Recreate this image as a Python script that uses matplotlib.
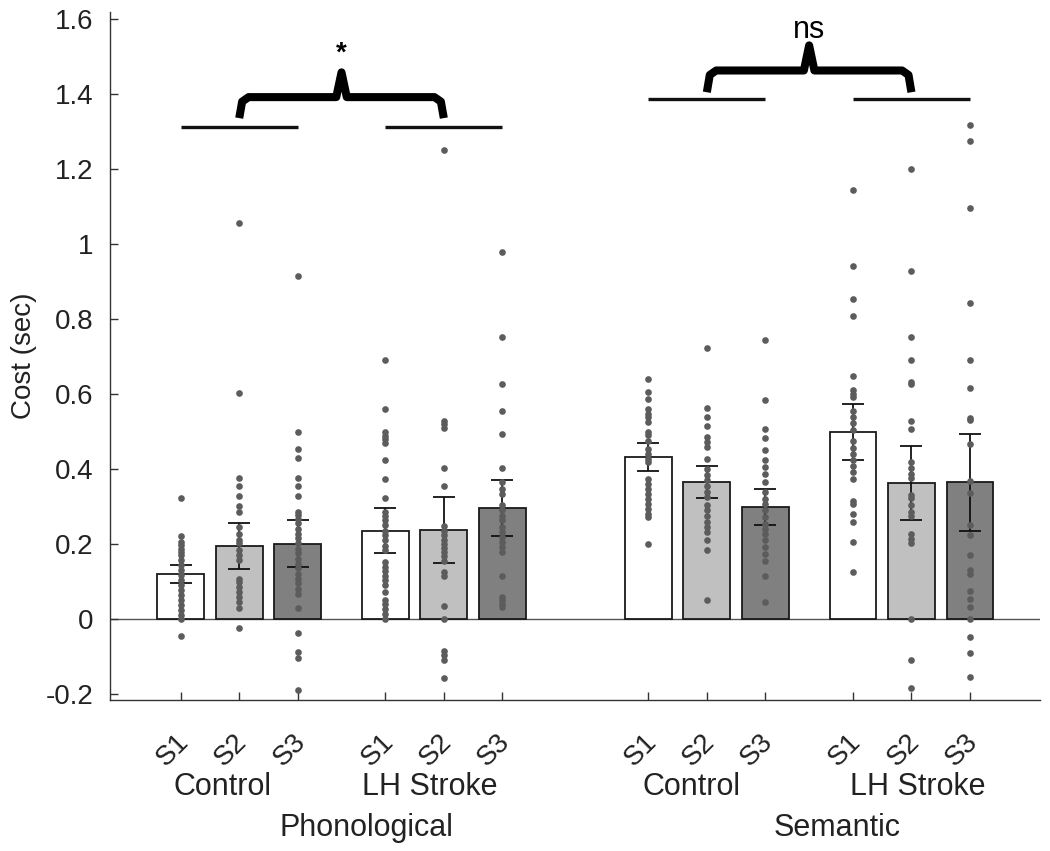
import matplotlib
matplotlib.use("Agg")
import matplotlib.pyplot as plt
import matplotlib.transforms as mtransforms
import numpy as np

plt.rcParams['font.family'] = ['Liberation Sans', 'DejaVu Sans']

# ---------------- data ----------------
tasks = ["Phonological", "Semantic"]
groups = ["Control", "LH Stroke"]
sessions = ["S1", "S2", "S3"]

means = [0.121, 0.195, 0.202, 0.236, 0.238, 0.297,
         0.433, 0.367, 0.300, 0.499, 0.363, 0.366]
errors = [0.024, 0.061, 0.062, 0.060, 0.088, 0.074,
          0.037, 0.043, 0.047, 0.075, 0.099, 0.129]

pc_s1 = [0.325, 0.222, 0.207, 0.198, 0.189, 0.180, 0.171, 0.158, 0.145, 0.131, 0.118,
         0.105, 0.091, 0.078, 0.065, 0.051, 0.038, 0.025, 0.011, 0.0, -0.044]
pc_s2 = [1.056, 0.605, 0.378, 0.356, 0.330, 0.303, 0.287, 0.247, 0.229, 0.211, 0.203,
         0.185, 0.171, 0.158, 0.109, 0.100, 0.087, 0.074, 0.060, 0.047, 0.031, -0.024]
pc_s3 = [0.915, 0.501, 0.455, 0.431, 0.378, 0.356, 0.330, 0.287, 0.278, 0.269, 0.256,
         0.242, 0.229, 0.216, 0.203, 0.189, 0.176, 0.162, 0.149, 0.136, 0.122, 0.109,
         0.096, 0.082, 0.069, 0.031, -0.035, -0.087, -0.103, -0.187]
pl_s1 = [0.691, 0.562, 0.500, 0.490, 0.480, 0.470, 0.426, 0.375, 0.324, 0.286, 0.275,
         0.264, 0.251, 0.237, 0.224, 0.211, 0.197, 0.186, 0.153, 0.141, 0.129, 0.117,
         0.104, 0.093, 0.073, 0.051, 0.040, 0.028, 0.015, 0.0]
pl_s2 = [1.251, 0.529, 0.520, 0.510, 0.405, 0.355, 0.248, 0.237, 0.224, 0.212, 0.202,
         0.191, 0.180, 0.168, 0.157, 0.126, 0.115, 0.037, 0.0, -0.083, -0.096, -0.109, -0.155]
pl_s3 = [0.979, 0.752, 0.627, 0.557, 0.495, 0.405, 0.366, 0.349, 0.335, 0.304, 0.291,
         0.277, 0.264, 0.246, 0.233, 0.220, 0.206, 0.193, 0.180, 0.117, 0.060, 0.051,
         0.042, 0.033]
sc_s1 = [0.642, 0.606, 0.588, 0.562, 0.548, 0.540, 0.526, 0.499, 0.491, 0.477, 0.455,
         0.442, 0.428, 0.420, 0.375, 0.362, 0.348, 0.335, 0.322, 0.308, 0.295, 0.282,
         0.273, 0.200]
sc_s2 = [0.725, 0.564, 0.540, 0.517, 0.486, 0.473, 0.460, 0.428, 0.402, 0.384, 0.371,
         0.357, 0.340, 0.326, 0.304, 0.291, 0.277, 0.259, 0.246, 0.233, 0.211, 0.186, 0.051]
sc_s3 = [0.745, 0.586, 0.508, 0.484, 0.451, 0.426, 0.406, 0.388, 0.366, 0.340, 0.322,
         0.308, 0.291, 0.273, 0.255, 0.242, 0.228, 0.211, 0.193, 0.175, 0.157, 0.117, 0.046]
sl_s1 = [1.146, 0.942, 0.855, 0.808, 0.648, 0.611, 0.602, 0.593, 0.557, 0.540, 0.524,
         0.504, 0.477, 0.458, 0.440, 0.424, 0.408, 0.393, 0.375, 0.317, 0.307, 0.280,
         0.259, 0.206, 0.126]
sl_s2 = [1.201, 0.930, 0.752, 0.691, 0.633, 0.627, 0.529, 0.508, 0.420, 0.405, 0.389,
         0.378, 0.333, 0.324, 0.304, 0.286, 0.275, 0.228, 0.215, 0.203, 0.0, -0.109, -0.182]
sl_s3 = [1.319, 1.277, 1.096, 0.845, 0.691, 0.618, 0.538, 0.531, 0.468, 0.370, 0.337,
         0.253, 0.224, 0.173, 0.132, 0.122, 0.077, 0.055, 0.033, 0.0, -0.047, -0.089, -0.154]

dots = [pc_s1, pc_s2, pc_s3, pl_s1, pl_s2, pl_s3,
        sc_s1, sc_s2, sc_s3, sl_s1, sl_s2, sl_s3]

ytick_vals = [-0.2, 0, 0.2, 0.4, 0.6, 0.8, 1.0, 1.2, 1.4, 1.6]
ytick_labels = ["-0.2", "0", "0.2", "0.4", "0.6", "0.8", "1", "1.2", "1.4", "1.6"]
sig_labels = ["*", "ns"]

# ---------------- layout ----------------
group_starts = [1, 4.5, 9, 12.5]
positions = [s + k for s in group_starts for k in range(3)]
bar_colors = ["#ffffff", "#c0c0c0", "#808080"] * 4

fig = plt.figure(figsize=(10.5, 8.51), dpi=100)
ax = fig.add_axes([0.1048, 0.1774, 0.8857, 0.8085])
ax.set_xlim(-0.21, 15.7)
ax.set_ylim(-0.215, 1.62)

ax.axhline(0, color="#555555", lw=1.0, zorder=1)
ax.bar(positions, means, width=0.8, color=bar_colors, edgecolor="#1a1a1a",
       linewidth=1.3, zorder=2)
ax.errorbar(positions, means, yerr=errors, fmt="none", ecolor="#111111",
            elinewidth=1.3, capsize=8, capthick=1.3, zorder=3)
for x, d in zip(positions, dots):
    ax.plot([x] * len(d), d, "o", ms=4.8, color="#5c5c5c", mec="none", zorder=4)

# brackets
line_y = [1.313, 1.387]
brace_foot = [1.337, 1.406]
brace_mid = [1.393, 1.464]
brace_tip = [1.459, 1.531]
for t in range(2):
    g0, g1 = group_starts[2 * t], group_starts[2 * t + 1]
    for g in (g0, g1):
        ax.plot([g, g + 2], [line_y[t]] * 2, color="#111111", lw=2.4,
                solid_capstyle="butt", zorder=5)
    xl, xr = g0 + 1, g1 + 1
    xc = (xl + xr) / 2
    by, my, ty = brace_foot[t], brace_mid[t], brace_tip[t]
    bx = [xl, xl + 0.05, xl + 0.16, xc - 0.09, xc, xc + 0.09, xr - 0.16, xr - 0.05, xr]
    byy = [by, my - 0.012, my, my, ty, my, my, my - 0.012, by]
    ax.plot(bx, byy, color="black", lw=5.8, solid_joinstyle="round",
            solid_capstyle="butt", zorder=5)
    if t == 0:
        ax.text(xc, ty + 0.05, sig_labels[t], ha="center", va="center",
                fontsize=20, fontweight="bold")
    else:
        ax.text(xc, ty + 0.04, sig_labels[t], ha="center", va="center", fontsize=22)

# axes styling
for s in ("top", "right"):
    ax.spines[s].set_visible(False)
for s in ("left", "bottom"):
    ax.spines[s].set_color("#333333")
    ax.spines[s].set_linewidth(1.0)
ax.set_yticks(ytick_vals)
ax.set_yticklabels(ytick_labels, fontsize=20, color="#222222")
ax.set_xticks(positions)
ax.set_xticklabels([])
shift = mtransforms.ScaledTranslation(-8 / 100, 0, fig.dpi_scale_trans)
for x, lab in zip(positions, sessions * 4):
    ax.text(x, -0.073, lab, transform=ax.get_xaxis_transform() + shift,
            rotation=45, ha="center", va="center", fontsize=20, color="#222222")
ax.tick_params(axis="both", direction="in", length=6, width=1.0, color="#333333")
ax.tick_params(axis="y", pad=12)
ax.set_ylabel("Cost (sec)", fontsize=20, color="#222222", labelpad=6)

# group labels
grp_x = [1.71, 5.26, 9.74, 13.6]
for gx, name in zip(grp_x, groups * 2):
    ax.text(gx, -0.447, name, ha="center", va="center", fontsize=22, color="#222222")
task_x = [4.17, 12.23]
for tx, name in zip(task_x, tasks):
    ax.text(tx, -0.557, name, ha="center", va="center", fontsize=22, color="#222222")

fig.savefig("out.png", dpi=100)
